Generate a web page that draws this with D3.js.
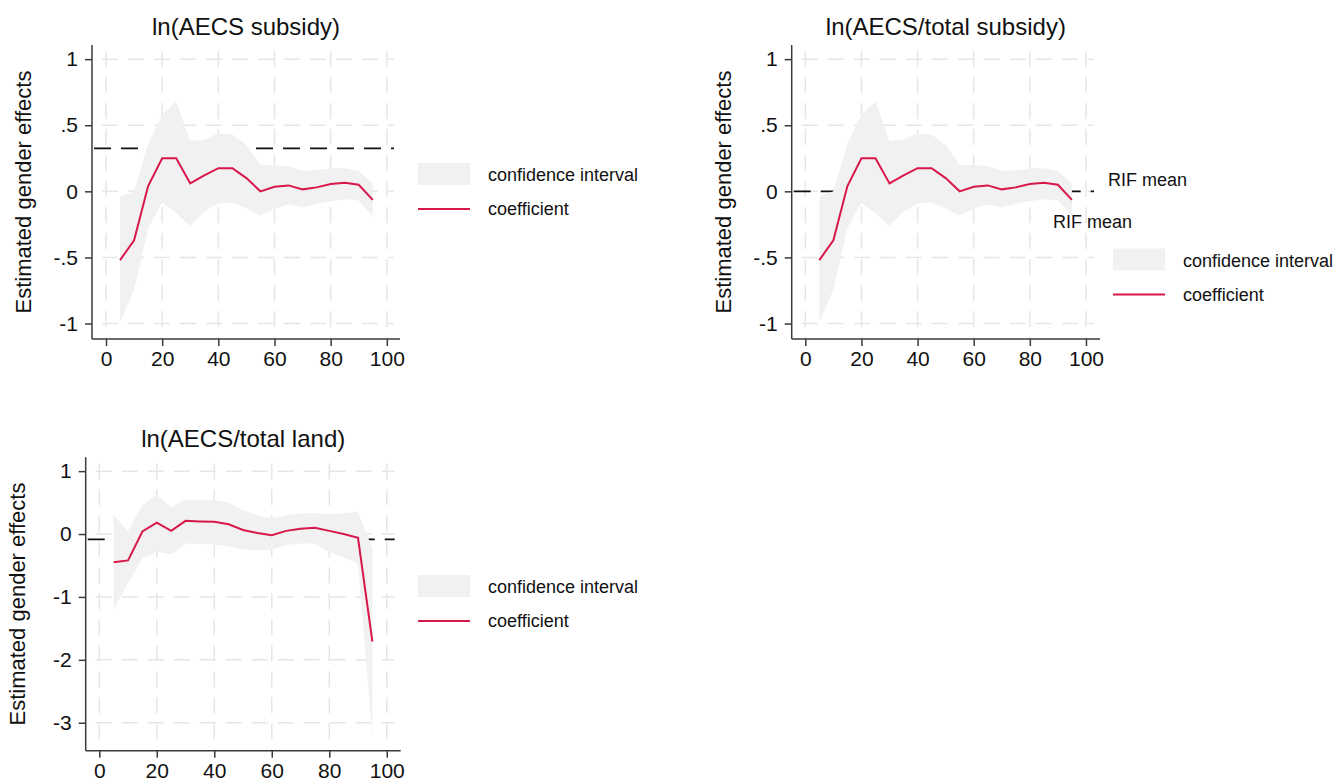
<!DOCTYPE html>
<html>
<head>
<meta charset="utf-8">
<script src="https://cdn.jsdelivr.net/npm/d3@7"></script>
<style>
  body { margin: 0; background: #fff; }
  svg { display: block; font-family: "Liberation Sans", Arial, Helvetica, sans-serif; }
</style>
</head>
<body>
<svg id="chart" width="1335" height="784"></svg>
<script>
// quantiles of the RIF regressions
const quantiles = [5, 10, 15, 20, 25, 30, 35, 40, 45, 50, 55, 60, 65, 70, 75, 80, 85, 90, 95];

// ln(AECS subsidy)
const subsidyCoef = [-0.52, -0.37, 0.04, 0.25, 0.25, 0.06, 0.12, 0.175, 0.175, 0.10, 0.00, 0.035, 0.045, 0.015, 0.03, 0.055, 0.065, 0.05, -0.065];
const subsidyLo = [-0.99, -0.745, -0.28, -0.085, -0.165, -0.26, -0.155, -0.09, -0.085, -0.13, -0.185, -0.13, -0.10, -0.12, -0.095, -0.075, -0.06, -0.07, -0.19];
const subsidyHi = [-0.04, 0.00, 0.36, 0.58, 0.68, 0.38, 0.39, 0.44, 0.43, 0.35, 0.20, 0.20, 0.19, 0.155, 0.16, 0.175, 0.175, 0.155, 0.06];
const subsidyMean = 0.325;

// ln(AECS/total subsidy)
const shareCoef = [-0.52, -0.37, 0.04, 0.25, 0.25, 0.06, 0.12, 0.175, 0.175, 0.10, 0.00, 0.035, 0.045, 0.015, 0.03, 0.055, 0.065, 0.05, -0.065];
const shareLo = [-0.99, -0.745, -0.28, -0.085, -0.165, -0.26, -0.155, -0.09, -0.085, -0.13, -0.185, -0.13, -0.10, -0.12, -0.095, -0.075, -0.06, -0.07, -0.19];
const shareHi = [-0.04, 0.00, 0.36, 0.58, 0.68, 0.38, 0.39, 0.44, 0.43, 0.35, 0.20, 0.20, 0.19, 0.155, 0.16, 0.175, 0.175, 0.155, 0.06];
const shareMean = 0.0;

// ln(AECS/total land)
const landCoef = [-0.45, -0.42, 0.04, 0.18, 0.05, 0.21, 0.20, 0.195, 0.155, 0.065, 0.015, -0.02, 0.05, 0.085, 0.10, 0.05, 0.0, -0.06, -1.71];
const landLo = [-1.20, -0.78, -0.39, -0.28, -0.32, -0.15, -0.16, -0.165, -0.20, -0.245, -0.255, -0.255, -0.175, -0.15, -0.15, -0.28, -0.37, -0.47, -3.22];
const landHi = [0.30, 0.05, 0.46, 0.63, 0.42, 0.55, 0.54, 0.54, 0.50, 0.38, 0.30, 0.25, 0.30, 0.33, 0.33, 0.32, 0.33, 0.355, -0.23];
const landMean = -0.085;

const xTicks = [0, 20, 40, 60, 80, 100];
const yTicksSmall = [-1, -0.5, 0, 0.5, 1];
const yTicksLand = [-3, -2, -1, 0, 1];

const legendLabels = ["confidence interval", "coefficient"];

var lineColor = "#d8174b";
var ciColor = "#f1f1f1";
var gridColor = "#e6e6e6";
var axisColor = "#3a3a3a";

const svg = d3.select("#chart");

function stataFmt(d) {
    if (d === 0) return "0";
    return String(d).replace("0.", ".");
}

function drawPanel(p) {
    var x = d3.scaleLinear().domain(p.xDomain).range([p.left, p.right]);
    var y = d3.scaleLinear().domain(p.yDomain).range([p.bottom, p.top]);
    var g = svg.append("g");

    // grid
    g.selectAll(".hgrid").data(p.yTicks).enter().append("line")
        .attr("x1", p.left).attr("x2", p.right - 6)
        .attr("y1", d => y(d)).attr("y2", d => y(d))
        .attr("stroke", gridColor).attr("stroke-width", 1.5)
        .attr("stroke-dasharray", "16,10").attr("stroke-dashoffset", -10);
    g.selectAll(".vgrid").data(xTicks).enter().append("line")
        .attr("x1", d => x(d)).attr("x2", d => x(d))
        .attr("y1", p.top).attr("y2", p.bottom)
        .attr("stroke", gridColor).attr("stroke-width", 1.5)
        .attr("stroke-dasharray", "16,10").attr("stroke-dashoffset", -6);

    // RIF mean reference line
    g.append("line")
        .attr("x1", p.left + 2).attr("x2", p.right - 6)
        .attr("y1", y(p.mean)).attr("y2", y(p.mean))
        .attr("stroke", "#111").attr("stroke-width", 1.6)
        .attr("stroke-dasharray", "17,10");

    // confidence band
    var area = d3.area()
        .x((d, i) => x(quantiles[i]))
        .y0((d, i) => y(p.lo[i]))
        .y1((d, i) => y(p.hi[i]));
    g.append("path").datum(p.lo).attr("d", area).attr("fill", ciColor);

    // coefficient line
    var line = d3.line()
        .x((d, i) => x(quantiles[i]))
        .y(d => y(d));
    g.append("path").datum(p.coef).attr("d", line)
        .attr("fill", "none").attr("stroke", lineColor).attr("stroke-width", 2);

    // axes
    var xAxis = g.append("g")
        .attr("transform", `translate(0,${p.bottom})`)
        .call(d3.axisBottom(x).tickValues(xTicks).tickSize(7).tickPadding(5));
    var yAxis = g.append("g")
        .attr("transform", `translate(${p.left},0)`)
        .call(d3.axisLeft(y).tickValues(p.yTicks).tickFormat(stataFmt).tickSize(7).tickPadding(7));
    [xAxis, yAxis].forEach(a => {
        a.select(".domain").remove();
        a.selectAll(".tick line").attr("stroke", axisColor).attr("stroke-width", 1.5);
        a.selectAll(".tick text").attr("fill", "#111").style("font-size", "21px");
    });
    g.append("line")
        .attr("x1", p.left).attr("x2", p.left)
        .attr("y1", p.top).attr("y2", p.bottom)
        .attr("stroke", axisColor).attr("stroke-width", 1.5);
    g.append("line")
        .attr("x1", p.left).attr("x2", p.right)
        .attr("y1", p.bottom).attr("y2", p.bottom)
        .attr("stroke", axisColor).attr("stroke-width", 1.5);

    // title + y label
    g.append("text")
        .attr("x", (p.left + p.right) / 2).attr("y", p.top - 10)
        .attr("text-anchor", "middle")
        .style("font-size", "24px").attr("fill", "#111")
        .text(p.title);
    g.append("text")
        .attr("transform", `translate(${p.left - 61},${(p.top + p.bottom) / 2}) rotate(-90)`)
        .attr("text-anchor", "middle")
        .style("font-size", "22px").attr("fill", "#111")
        .text("Estimated gender effects");

    // legend
    var lg = g.append("g").attr("transform", `translate(${p.legendX},${p.legendY})`);
    lg.append("rect").attr("x", 0).attr("y", 0).attr("width", 52).attr("height", 22).attr("fill", ciColor);
    lg.append("line").attr("x1", 0).attr("x2", 52).attr("y1", 46).attr("y2", 46)
        .attr("stroke", lineColor).attr("stroke-width", 2);
    lg.selectAll("text").data(legendLabels).enter().append("text")
        .attr("x", 70)
        .attr("y", (d, i) => i == 0 ? 18 : 52)
        .style("font-size", "18px").attr("fill", "#111")
        .text(d => d);
}

drawPanel({
    title: "ln(AECS subsidy)",
    left: 92, right: 400, top: 45, bottom: 339,
    xDomain: [-4.99, 104.7], yDomain: [-1.117, 1.107],
    yTicks: yTicksSmall,
    coef: subsidyCoef, lo: subsidyLo, hi: subsidyHi, mean: subsidyMean,
    legendX: 418, legendY: 163
});

drawPanel({
    title: "ln(AECS/total subsidy)",
    left: 791.7, right: 1100, top: 45, bottom: 339,
    xDomain: [-4.85, 105.0], yDomain: [-1.117, 1.107],
    yTicks: yTicksSmall,
    coef: shareCoef, lo: shareLo, hi: shareHi, mean: shareMean,
    legendX: 1113, legendY: 248.5
});

drawPanel({
    title: "ln(AECS/total land)",
    left: 85.7, right: 400.7, top: 457.3, bottom: 750.7,
    xDomain: [-4.73, 104.85], yDomain: [-3.445, 1.22],
    yTicks: yTicksLand,
    coef: landCoef, lo: landLo, hi: landHi, mean: landMean,
    legendX: 418, legendY: 575
});

// labels of the RIF mean line in the second panel
svg.append("text").attr("x", 1108).attr("y", 186)
    .style("font-size", "18px").attr("fill", "#111").text("RIF mean");
svg.append("text").attr("x", 1053).attr("y", 228)
    .style("font-size", "18px").attr("fill", "#111").text("RIF mean");
</script>
</body>
</html>
